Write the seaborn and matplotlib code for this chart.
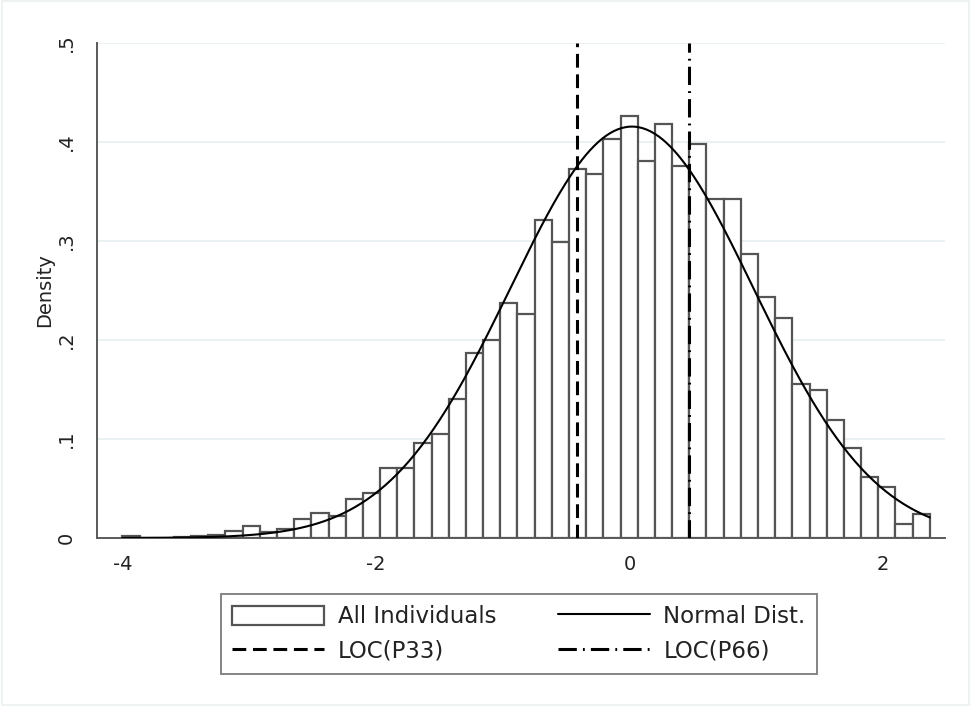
import numpy as np
import pandas as pd
import matplotlib
matplotlib.use("Agg")
import matplotlib.pyplot as plt
import seaborn as sns
from matplotlib.patches import Patch, Rectangle
from matplotlib.lines import Line2D

# --- data ---
bin_lo, bin_hi = -4.0, 2.37
bin_heights = [0.002, 0.000, 0.000, 0.001, 0.002, 0.003, 0.007, 0.012, 0.006, 0.009,
               0.019, 0.025, 0.022, 0.039, 0.045, 0.071, 0.071, 0.096, 0.105, 0.140,
               0.187, 0.200, 0.237, 0.226, 0.321, 0.299, 0.373, 0.368, 0.403, 0.426,
               0.381, 0.418, 0.376, 0.398, 0.342, 0.342, 0.287, 0.243, 0.222, 0.156,
               0.149, 0.119, 0.091, 0.062, 0.052, 0.014, 0.024]
norm_mean, norm_sd = 0.02, 0.96
loc_p33, loc_p66 = -0.41, 0.47
y_ticks = [0, 0.1, 0.2, 0.3, 0.4, 0.5]
y_labels = ["0", ".1", ".2", ".3", ".4", ".5"]
x_ticks = [-4, -2, 0, 2]
x_labels = ["-4", "-2", "0", "2"]

sns.set_style("white")
plt.rcParams['font.family'] = ['DejaVu Sans']

edges = np.linspace(bin_lo, bin_hi, len(bin_heights) + 1)
hist_df = pd.DataFrame({'x': (edges[:-1] + edges[1:]) / 2, 'w': bin_heights})

xs = np.linspace(bin_lo, bin_hi, 400)
curve_df = pd.DataFrame({'x': xs,
                         'y': np.exp(-0.5 * ((xs - norm_mean) / norm_sd) ** 2) / (norm_sd * np.sqrt(2 * np.pi))})

fig = plt.figure(figsize=(9.71, 7.06), dpi=100)
ax = fig.add_axes([97 / 971, 1 - 538 / 706, (945 - 97) / 971, (538 - 43) / 706])

axis_col = '#5a5a5a'
grid_col = '#e6eff0'

for yv in y_ticks[1:]:
    ax.axhline(yv, color=grid_col, lw=1.2, zorder=0)

sns.histplot(data=hist_df, x='x', weights='w', bins=edges.tolist(), stat='count',
             color='white', edgecolor='#555555', linewidth=1.6, alpha=1, ax=ax, zorder=2)
sns.lineplot(data=curve_df, x='x', y='y', color='black', lw=1.5, ax=ax, zorder=3)

ax.vlines(loc_p33, 0, 0.5, color='black', lw=2.2, linestyles=[(0, (4.5, 2.2))], zorder=4)
ax.vlines(loc_p66, 0, 0.5, color='black', lw=2.2, linestyles=[(0, (6, 2, 0.6, 2))], zorder=4)

ax.set_xlim(-4.2, 2.49)
ax.set_ylim(0, 0.5)
ax.set_xticks(x_ticks)
ax.set_xticklabels(x_labels)
ax.set_yticks(y_ticks)
ax.set_yticklabels(y_labels, rotation=90, va='center')
ax.tick_params(axis='both', direction='out', length=7, width=1.3, color=axis_col,
               labelsize=14, labelcolor='#222222', pad=5)
ax.tick_params(axis='y', pad=8)
ax.set_xlabel('')
ax.set_ylabel('Density', fontsize=14, color='#222222', labelpad=2)

for s in ['top', 'right']:
    ax.spines[s].set_visible(False)
for s in ['left', 'bottom']:
    ax.spines[s].set_color(axis_col)
    ax.spines[s].set_linewidth(1.4)

handles = [Patch(facecolor='white', edgecolor='#555555', linewidth=1.6),
           Line2D([], [], color='black', lw=2.2, linestyle=(0, (4.5, 2.2))),
           Line2D([], [], color='black', lw=1.5),
           Line2D([], [], color='black', lw=2.2, linestyle=(0, (6, 2, 0.6, 2)))]
labels = ['All Individuals', 'LOC(P33)', 'Normal Dist.', 'LOC(P66)']
leg = fig.legend(handles, labels,
                 ncol=2, loc='center', bbox_to_anchor=(519 / 971, 1 - 634 / 706),
                 fontsize=16.5, frameon=True, fancybox=False, edgecolor='#666666',
                 handlelength=4.0, handleheight=0.95, handletextpad=0.6,
                 columnspacing=2.7, labelspacing=0.5, borderpad=0.5)
leg.get_frame().set_linewidth(1.4)
for t in leg.get_texts():
    t.set_color('#222222')

fig.patches.append(Rectangle((0.002, 0.002), 0.996, 0.996, transform=fig.transFigure,
                             fill=False, edgecolor='#eef2f3', lw=1.5))

fig.savefig('out.png', dpi=100)
